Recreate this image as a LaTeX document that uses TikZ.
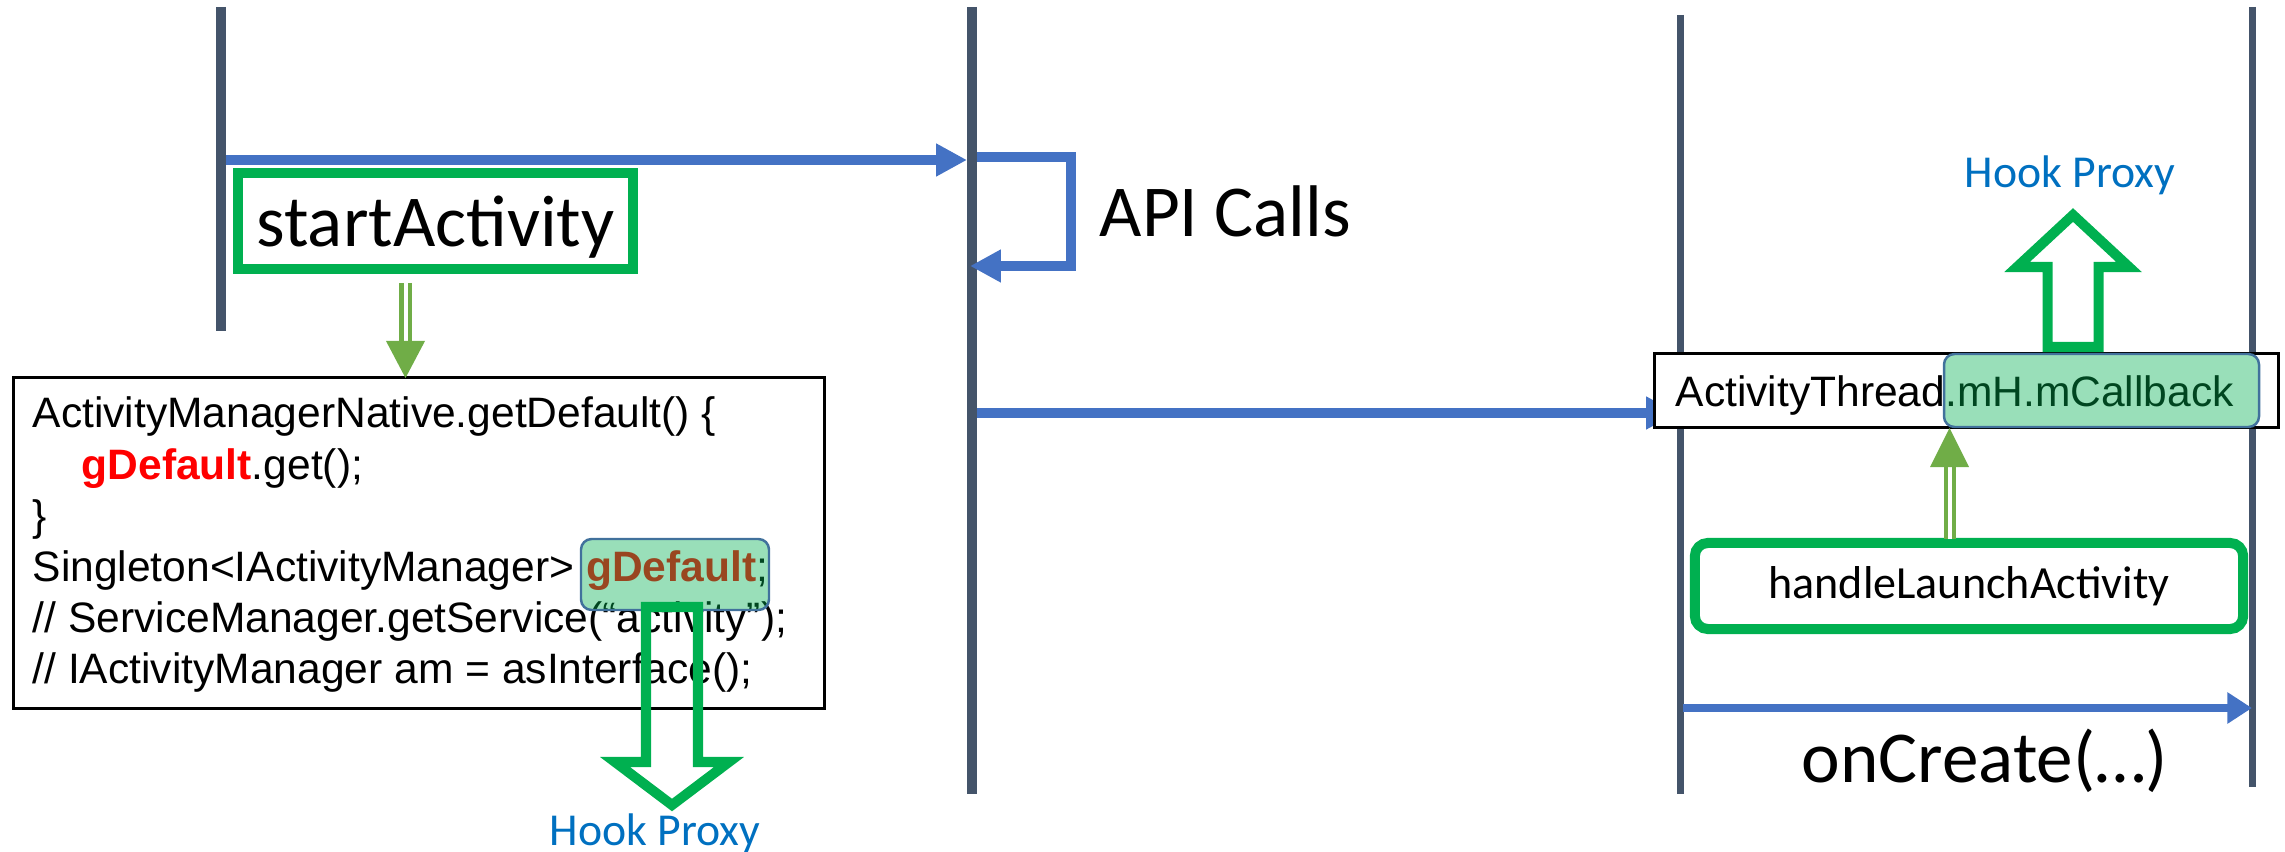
\documentclass[tikz,border=0pt]{standalone}
\usepackage{fontspec}
\setmainfont{Carlito}
\newfontfamily\codefont{Liberation Sans}
\usetikzlibrary{arrows.meta,positioning}
\definecolor{lifegrey}{HTML}{44546A}
\definecolor{msgblue}{HTML}{4472C4}
\definecolor{hookgreen}{HTML}{00B050}
\definecolor{callgreen}{HTML}{70AD47}
\definecolor{hiliteedge}{HTML}{41719C}
\definecolor{proxyblue}{HTML}{0070C0}

\tikzset{
  lifeline/.style={draw=lifegrey, line width=2.85pt},
  thinlife/.style={draw=lifegrey, line width=2pt},
  msg/.style={draw=msgblue, line width=2.85pt, line join=miter, -{Triangle[length=8.8pt,width=8.8pt]}},
  hookbox/.style={draw=hookgreen, line width=2.85pt, fill=white, inner sep=0pt},
  codebox/.style={draw=black, line width=0.85pt, fill=white, inner sep=0pt},
  codeline/.style={anchor=base west, inner sep=0pt, font=\codefont\fontsize{12.1}{14.5}\selectfont},
  hilite/.style={draw=hiliteedge, line width=0.7pt, fill=hookgreen, fill opacity=0.4, rounded corners=3pt},
  hookarrow/.style={draw=hookgreen, line width=2.85pt, line join=miter},
  callshaft/.style={draw=callgreen, double, line width=1.14pt, double distance=1.14pt},
  proxytext/.style={anchor=base, inner sep=0pt, text=proxyblue, font=\fontsize{13}{15}\selectfont},
  bigtext/.style={font=\fontsize{20.8}{25}\selectfont},
}

\begin{document}
\begin{tikzpicture}[x=0.01cm, y=-0.01cm]
\useasboundingbox (0,0) rectangle (2285,852);

% lifelines
\coordinate (appT) at (221,7);   \coordinate (appB) at (221,331);
\coordinate (amsT) at (972,7);   \coordinate (amsB) at (972,794);
\coordinate (thrT) at (1680,15); \coordinate (thrB) at (1680,794);
\coordinate (actT) at (2252,7);  \coordinate (actB) at (2252,787);
\draw[lifeline] (appT) -- (appB);
\draw[lifeline] (amsT) -- (amsB);
\draw[thinlife] (thrT) -- (thrB);
\draw[thinlife] (actT) -- (actB);

% messages
\coordinate (m1a) at (226,160); \coordinate (m1b) at (967,160);
\draw[msg] (m1a) -- (m1b);
\coordinate (selfa) at (977,157); \coordinate (selfb) at (970,266);
\draw[msg] (selfa) -- (1071,157) -- (1071,266) -- (selfb);
\node[bigtext, anchor=base west, inner sep=0pt] (api) at (1099,237) {API Calls};
\coordinate (m2a) at (977,413); \coordinate (m2b) at (1677,413);
\draw[msg] (m2a) -- (m2b);
\coordinate (m3a) at (1683,708); \coordinate (m3b) at (2252,708);
\draw[msg, line width=2.3pt, -{Triangle[length=7pt,width=8.5pt]}] (m3a) -- (m3b);
\node[bigtext, anchor=base, inner sep=0pt] (oncreate) at (1985,782) {onCreate(…)};

% left side: startActivity and gDefault
\node[hookbox, bigtext, minimum width=3.95cm, minimum height=0.96cm, text depth=0pt] (start) at (435.5,221) {startActivity};
\node[codebox, minimum width=8.11cm, minimum height=3.31cm] (code) at (419,543) {};
\node[codeline] (c1) at (32,428) {ActivityManagerNative.getDefault() \{};
\node[codeline] (c2) at (81,479) {{\color{red}\bfseries gDefault}.get();};
\node[codeline] (c3) at (32,530) {\}};
\node[codeline] (c4) at (32,581) {Singleton<IActivityManager> {\color{red}\bfseries gDefault};};
\node[codeline] (c5) at (32,632) {// ServiceManager.getService(“activity”);};
\node[codeline] (c6) at (32,683) {// IActivityManager am = asInterface();};
\draw[hilite] (581,539) rectangle (769,610);

\coordinate (startOut) at (405.5,283); \coordinate (codeIn) at (405.5,378);
\draw[callshaft] (startOut) -- ([yshift=0.37cm]codeIn);
\fill[callgreen] (codeIn) -- ++(-19.5,-37) -- ++(39,0) -- cycle;

\draw[hookarrow] (646,607) -- (698,607) -- (698,762) -- (729,762) -- (672,805) -- (615,762) -- (646,762) -- cycle;
\node[proxytext] (proxyA) at (655,845) {Hook Proxy};

% right side: ActivityThread and mCallback
\node[codebox, minimum width=6.23cm, minimum height=0.73cm] (thread) at (1966.5,390.5) {};
\node[codeline] (threadtxt) at (1675,407) {ActivityThread.mH.mCallback};
\draw[hilite] (1944,354) rectangle (2259,427);

\draw[hookarrow] (2047.5,347) -- (2098.5,347) -- (2098.5,267) -- (2129,267) -- (2073,215) -- (2017,267) -- (2047.5,267) -- cycle;
\node[proxytext] (proxyB) at (2070,188) {Hook Proxy};

\node[hookbox, rounded corners=3.7pt, minimum width=5.48cm, minimum height=0.86cm, font=\fontsize{13.1}{15}\selectfont] (handle) at (1969,586) {handleLaunchActivity};
\coordinate (handleOut) at (1949.5,539); \coordinate (hiliteIn) at (1949.5,428);
\draw[callshaft] (handleOut) -- ([yshift=-0.39cm]hiliteIn);
\fill[callgreen] (hiliteIn) -- ++(-19.5,39) -- ++(39,0) -- cycle;

\end{tikzpicture}
\end{document}
